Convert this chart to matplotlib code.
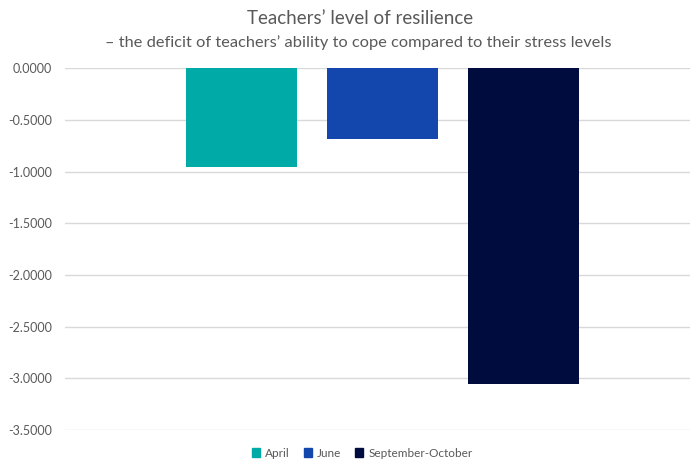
import matplotlib
matplotlib.use("Agg")
import matplotlib.pyplot as plt
from matplotlib.patches import Patch

series = ["April", "June", "September-October"]
values = [-0.96, -0.68, -3.05]
colors = ["#00aaa7", "#1447ad", "#000c3e"]
yticks = [0, -0.5, -1.0, -1.5, -2.0, -2.5, -3.0, -3.5]

plt.rcParams["font.family"] = ["Lato", "DejaVu Sans"]

fig = plt.figure(figsize=(6.91, 4.61), dpi=100)
ax = fig.add_axes([0.094, 0.067, 0.904, 0.785])

x = list(range(len(series)))
ax.bar(x, values, width=0.787, color=colors, zorder=3)

ax.set_ylim(-3.5, 0)
ax.set_xlim(-1.255, 3.177)
ax.set_yticks(yticks)
ax.set_yticklabels([f"{v:.4f}" for v in yticks], color="#595959", fontsize=9)
ax.set_xticks([])
ax.tick_params(axis="y", length=0, pad=9.5)
ax.grid(axis="y", color="#d9d9d9", linewidth=1, zorder=0)
for s in ax.spines.values():
    s.set_visible(False)

fig.text(0.521, 0.96, "Teachers\u2019 level of resilience", ha="center", va="center",
         fontsize=13.5, color="#595959")
fig.text(0.519, 0.907, "\u2013 the deficit of teachers\u2019 ability to cope compared to their stress levels",
         ha="center", va="center", fontsize=11.8, color="#595959")

handles = [Patch(color=c, label=s) for s, c in zip(series, colors)]
fig.legend(handles=handles, loc="center", bbox_to_anchor=(0.524, 0.017), ncol=3,
           frameon=False, fontsize=8.5, handlelength=0.7, handleheight=0.7,
           handletextpad=0.4, columnspacing=1.2, labelcolor="#595959")

fig.savefig("out.png", dpi=100)
